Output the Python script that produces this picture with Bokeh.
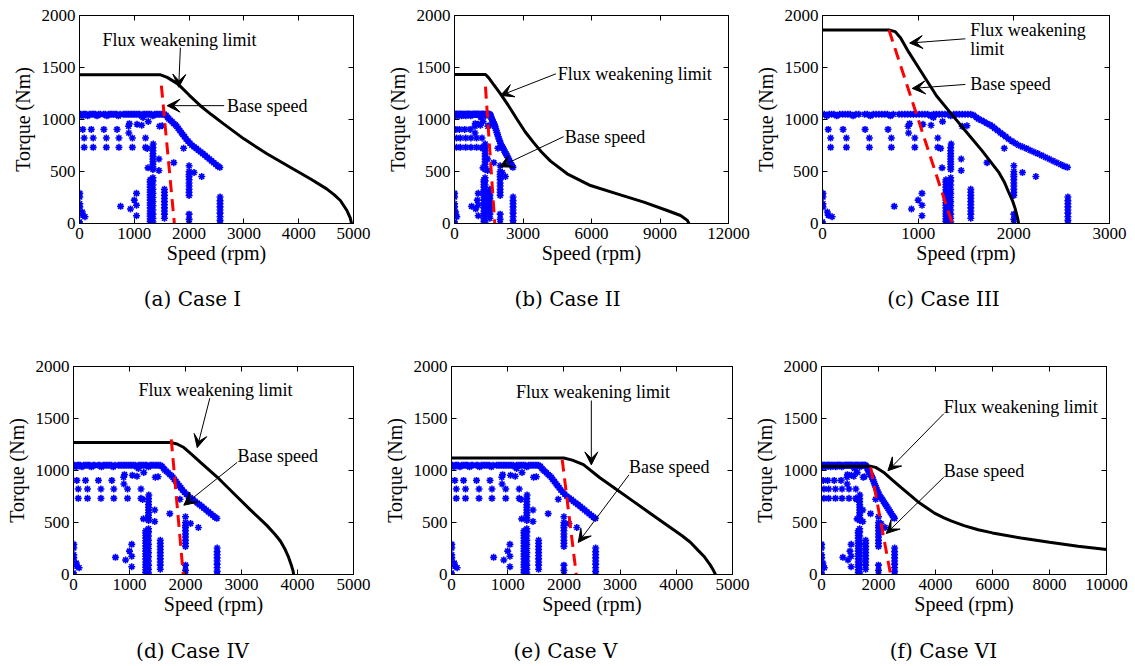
from bokeh.plotting import figure
from bokeh.layouts import row, column
from bokeh.models import Range1d, FixedTicker, LinearAxis, Label, Arrow, VeeHead
from bokeh.embed import file_html
from bokeh.resources import INLINE

# ---------------- data ----------------
torque_ticks = [0, 500, 1000, 1500, 2000]

# drive-cycle operating points (same in every case)
op_speed = [
    # maximum torque row
    0, 20, 45, 70, 95, 120, 150, 180, 210, 240, 265, 290, 320, 350, 380, 440, 470, 500, 530, 560,
    590, 620, 650, 680, 710, 740, 800, 830, 860, 890, 920, 950, 980, 1010, 1040, 1070, 1100, 1130,
    1160, 1190, 1220, 1250, 1280, 1310, 1340, 1370, 1400, 1430, 1460, 1490, 1520, 1550,
    # envelope above base speed
    1580, 1610, 1630, 1660, 1690, 1720, 1750, 1775, 1800, 1830, 1860, 1885, 1915, 1945, 1980, 2015,
    2050, 2090, 2130, 2170, 2210, 2250, 2290, 2330, 2370, 2410, 2450, 2490, 2525, 2560,
    # rows
    60, 215, 445, 685, 895, 910, 1050, 1135, 1160, 1255, 1460, 1510,
    85, 250, 490, 720, 965, 1205,
    85, 250, 490, 720, 965, 1205, 1235,
    # scattered
    900, 1345, 1250, 1450, 1450, 1720, 1900, 2000, 2090, 2230,
    # column ~1290 rpm
    1290, 1290, 1290, 1290, 1290, 1290, 1290, 1290, 1290, 1290, 1290, 1290, 1290, 1290, 1290, 1290, 1290, 1290,
    # column ~1340 rpm
    1340, 1340, 1340, 1340, 1340, 1340, 1340, 1340, 1340, 1340, 1340, 1340, 1340, 1340, 1340, 1340, 1340,
    1340, 1340, 1340, 1340,
    # column ~1550 rpm
    1550, 1550, 1550, 1550, 1550, 1550, 1550, 1550, 1550, 1550,
    # column ~2000 rpm
    2000, 2000, 2000, 2000, 2000, 2000, 2000, 2000, 2000, 2000, 2000, 2000,
    # column ~2565 rpm
    2565, 2565, 2565, 2565, 2565, 2565, 2565, 2565, 2565,
    # low speed
    0, 0, 5, 5, 5, 5, 50, 60, 100,
    750, 930, 1000, 1040, 1040, 1040,
]
op_torque = [
    1050, 1050, 1035, 1050, 1050, 1050, 1035, 1050, 1050, 1050, 1050, 1050, 1035, 1050, 1050, 1050, 1050, 1035, 1050, 1050,
    1050, 1050, 1050, 1050, 1035, 1050, 1050, 1050, 1050, 1050, 1050, 1050, 1050, 1050, 1050, 1050, 1050, 1035,
    1050, 1050, 1050, 1050, 1050, 1050, 1035, 1050, 1050, 1050, 1050, 1050, 1050, 1050,
    1040, 1020, 1005, 992, 978, 962, 948, 935, 915, 895, 872, 855, 835, 812, 792, 772,
    752, 737, 722, 704, 688, 672, 655, 637, 620, 602, 584, 567, 552, 540,
    905, 905, 905, 905, 935, 960, 955, 945, 1020, 980, 935, 940,
    822, 822, 822, 822, 822, 822,
    732, 732, 732, 732, 732, 732, 722,
    870, 765, 535, 620, 510, 585, 723, 555, 490, 452,
    0, 20, 45, 70, 95, 120, 150, 175, 200, 225, 250, 275, 300, 325, 350, 375, 400, 420,
    15, 50, 90, 130, 170, 210, 250, 290, 330, 370, 410, 440, 520, 545, 570, 595, 620,
    645, 670, 700, 730,
    50, 90, 120, 150, 180, 210, 240, 270, 300, 330,
    0, 40, 90, 270, 300, 330, 360, 390, 420, 450, 470, 500,
    0, 30, 65, 100, 130, 160, 190, 220, 255,
    0, 15, 160, 190, 255, 290, 110, 80, 65,
    165, 140, 225, 290, 175, 75,
]

# flux weakening limits
a_fw_speed = [0, 1480, 1600, 1800, 2000, 2200, 2400, 2630, 3000, 3420, 3845, 4210, 4510, 4650, 4760, 4880, 4940, 4965]
a_fw_torque = [1430, 1430, 1405, 1340, 1235, 1135, 1050, 958, 814, 670, 541, 430, 333, 275, 221, 125, 55, 0]
b_fw_speed = [0, 1360, 1500, 1700, 2015, 2400, 2745, 3100, 3475, 3800, 4205, 4935, 5957, 7125, 8293, 9315, 9900, 10200, 10264]
b_fw_torque = [1432, 1432, 1400, 1340, 1247, 1120, 1000, 880, 775, 690, 600, 478, 365, 285, 205, 125, 77, 30, 0]
c_fw_speed = [0, 695, 760, 817, 900, 1000, 1193, 1338, 1493, 1667, 1841, 1900, 1945, 1990, 2014, 2040, 2050]
c_fw_torque = [1860, 1860, 1845, 1783, 1650, 1505, 1226, 1064, 892, 701, 494, 400, 303, 210, 143, 50, 0]
d_fw_speed = [0, 1734, 1850, 1971, 2100, 2268, 2565, 2862, 3159, 3320, 3456, 3600, 3694, 3780, 3842, 3890, 3920, 3931]
d_fw_torque = [1270, 1270, 1255, 1221, 1160, 1079, 937, 779, 621, 540, 470, 385, 322, 240, 164, 90, 35, 0]
e_fw_speed = [0, 1999, 2150, 2348, 2640, 2931, 3223, 3514, 3805, 4097, 4250, 4388, 4500, 4600, 4660, 4697]
e_fw_torque = [1120, 1120, 1100, 1057, 930, 819, 708, 597, 486, 375, 310, 232, 170, 95, 40, 0]
f_fw_speed = [0, 1748, 1900, 2050, 2214, 2500, 2797, 3100, 3380, 3700, 3963, 4300, 4545, 5000, 5500, 6000, 7000, 8000, 9000, 10000]
f_fw_torque = [1040, 1040, 1030, 1005, 975, 905, 835, 765, 700, 640, 590, 545, 515, 470, 430, 400, 350, 310, 272, 241]

# base speed lines
a_base_speed, a_base_torque = [1494, 1731], [1326, 0]
b_base_speed, b_base_torque = [1356, 1764], [1316, 0]
c_base_speed, c_base_torque = [695, 1356], [1860, 0]
d_base_speed, d_base_torque = [1746, 1960], [1300, 0]
e_base_speed, e_base_torque = [1970, 2220], [1105, 0]
f_base_speed, f_base_torque = [1725, 2424], [1031, 0]

captions = ["(a) Case I", "(b) Case II", "(c) Case III", "(d) Case IV", "(e) Case V", "(f) Case VI"]
x_max = [5000, 12000, 3000, 5000, 5000, 10000]
x_ticks = [
    [0, 1000, 2000, 3000, 4000, 5000],
    [0, 3000, 6000, 9000, 12000],
    [0, 1000, 2000, 3000],
    [0, 1000, 2000, 3000, 4000, 5000],
    [0, 1000, 2000, 3000, 4000, 5000],
    [0, 2000, 4000, 6000, 8000, 10000],
]

FW = "Flux weakening limit"
BS = "Base speed"
# annotations: (text lines, text x, text y(s), tail, tip)
notes = [
    [([FW], 419, [1762], (1841, 1690), (1810, 1310)),
     ([BS], 2690, [1133], (2640, 1133), (1598, 1133))],
    [([FW], 4520, [1442], (4440, 1439), (2015, 1231)),
     ([BS], 4830, [830], (4780, 835), (1980, 545))],
    [(["Flux weakening", "limit"], 1545, [1865, 1675], (1493, 1776), (911, 1735)),
     ([BS], 1545, [1337], (1493, 1337), (938, 1299))],
    [([FW], 1161, [1773], (2434, 1694), (2209, 1220)),
     ([BS], 2929, [1140], (2923, 1078), (1970, 666))],
    [([FW], 1148, [1752], (2488, 1673), (2488, 1054)),
     ([BS], 3159, [1038], (3159, 959), (2255, 308))],
    [([FW], 4290, [1608], (4290, 1546), (2331, 998)),
     ([BS], 4290, [998], (4290, 936), (2273, 394))],
]

fw_speeds = [a_fw_speed, b_fw_speed, c_fw_speed, d_fw_speed, e_fw_speed, f_fw_speed]
fw_torques = [a_fw_torque, b_fw_torque, c_fw_torque, d_fw_torque, e_fw_torque, f_fw_torque]
base_speeds = [a_base_speed, b_base_speed, c_base_speed, d_base_speed, e_base_speed, f_base_speed]
base_torques = [a_base_torque, b_base_torque, c_base_torque, d_base_torque, e_base_torque, f_base_torque]

# ---------------- layout geometry ----------------
# (width, height, border_left, border_right, border_top, border_bottom)
geom = [
    (380, 280, 79, 27, 15, 57),
    (370, 280, 74, 22, 15, 57),
    (380, 280, 72, 21, 14, 57),
    (380, 314, 73, 27, 50, 53),
    (370, 314, 66, 18, 48, 56),
    (380, 314, 70, 24, 49, 52),
]
# caption strips: (width, height, caption centre x, caption centre y from top)
cap_geom = [
    (380, 36, 192, 18), (370, 36, 187, 18), (380, 36, 193, 18),
    (380, 34, 192, 20), (370, 34, 185, 20), (380, 34, 193, 20),
]

SERIF = "Liberation Serif"


def style_axis(ax, ticks, show_labels=True):
    ax.ticker = FixedTicker(ticks=ticks)
    ax.major_tick_in = 5
    ax.major_tick_out = 0
    ax.minor_tick_in = 0
    ax.minor_tick_out = 0
    ax.axis_line_color = "black"
    ax.major_tick_line_color = "black"
    ax.major_label_text_font = SERIF
    ax.major_label_text_color = "black"
    if show_labels:
        ax.major_label_text_font_size = "17px"
        ax.major_label_standoff = 4
    else:
        ax.major_label_overrides = {t: "" for t in ticks}
        ax.major_label_text_font_size = "1px"
        ax.major_label_standoff = 0
    ax.axis_label_text_font = SERIF
    ax.axis_label_text_font_size = "20px"
    ax.axis_label_text_font_style = "normal"
    ax.axis_label_text_color = "black"


figs = []
for i in range(6):
    w, h, bl, br, bt, bb = geom[i]
    p = figure(width=w, height=h, x_range=Range1d(0, x_max[i]), y_range=Range1d(0, 2000),
               output_backend="svg", toolbar_location=None,
               min_border_left=bl, min_border_right=br, min_border_top=bt, min_border_bottom=bb)
    p.grid.visible = False
    p.outline_line_color = "black"
    p.outline_line_width = 1
    p.background_fill_color = "white"
    p.border_fill_color = "white"

    style_axis(p.xaxis[0], x_ticks[i])
    style_axis(p.yaxis[0], torque_ticks)
    p.xaxis[0].axis_label = "Speed (rpm)"
    p.yaxis[0].axis_label = "Torque (Nm)"
    p.xaxis[0].axis_label_standoff = 0
    p.yaxis[0].axis_label_standoff = 5

    top = LinearAxis()
    style_axis(top, x_ticks[i], show_labels=False)
    p.add_layout(top, "above")
    right = LinearAxis()
    style_axis(right, torque_ticks, show_labels=False)
    p.add_layout(right, "right")

    p.scatter(op_speed, op_torque, marker="asterisk", size=7, line_color="#0000ff", line_width=1.6)
    p.line(fw_speeds[i], fw_torques[i], line_color="black", line_width=3)
    p.line(base_speeds[i], base_torques[i], line_color="red", line_width=3, line_dash="12 7")

    for lines, tx, tys, tail, tip in notes[i]:
        for txt, ty in zip(lines, tys):
            p.add_layout(Label(x=tx, y=ty, text=txt, text_font=SERIF, text_font_size="18px",
                               text_baseline="middle", text_align="left", text_color="black"))
        p.add_layout(Arrow(x_start=tail[0], y_start=tail[1], x_end=tip[0], y_end=tip[1],
                           line_color="black", line_width=1,
                           end=VeeHead(size=13, fill_color="black", line_color="black")))
    figs.append(p)

caps = []
for i in range(6):
    cw, ch, ccx, ccy = cap_geom[i]
    c = figure(width=cw, height=ch, x_range=Range1d(0, cw), y_range=Range1d(0, ch),
               x_axis_type=None, y_axis_type=None, output_backend="svg", toolbar_location=None,
               min_border=0, min_border_left=0, min_border_right=0, min_border_top=0, min_border_bottom=0)
    c.grid.visible = False
    c.outline_line_color = None
    c.background_fill_color = "white"
    c.border_fill_color = "white"
    c.add_layout(Label(x=ccx, y=ch - ccy, x_units="screen", y_units="screen", text=captions[i],
                       text_font="DejaVu Serif", text_font_size="20px", text_align="center",
                       text_baseline="middle", text_color="black"))
    caps.append(c)

layout = column(row(figs[0], figs[1], figs[2]), row(caps[0], caps[1], caps[2]),
                row(figs[3], figs[4], figs[5]), row(caps[3], caps[4], caps[5]))
open("out.html", "w").write(file_html(layout, INLINE, "Torque-speed cases"))
